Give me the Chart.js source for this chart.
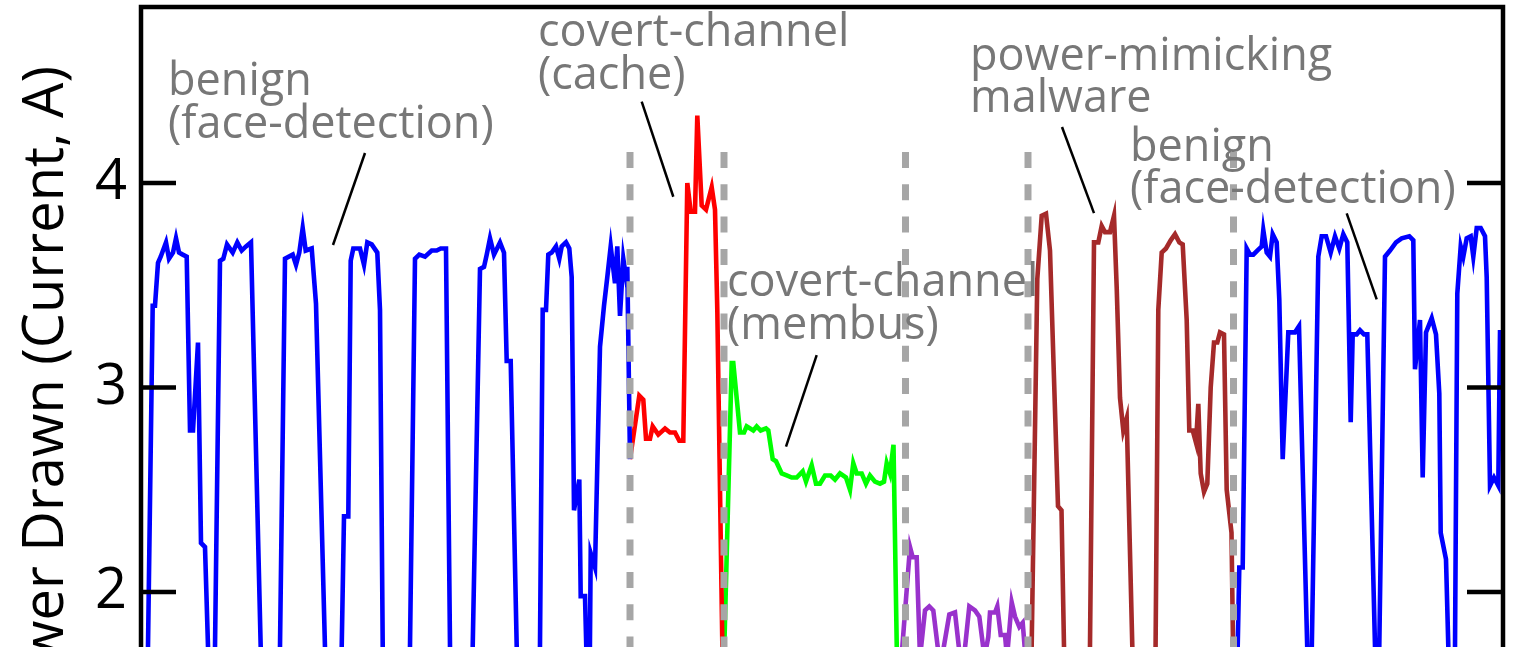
<!DOCTYPE html>
<html>
<head>
<meta charset="utf-8">
<style>
html,body{margin:0;padding:0;overflow:hidden;background:#fff;width:1514px;height:647px}
canvas{display:block}
</style>
<script src="https://cdn.jsdelivr.net/npm/chart.js@4.4.1/dist/chart.umd.min.js"></script>
</head>
<body>
<canvas id="c" width="1514" height="810"></canvas>
<script>
// ---- data: [time (s), current (A)] ----
const yTicks = [2, 3, 4];
const yMin = 1.03, yMax = 4.861;
const tMin = 0.1, tMax = 136.3;

const benignA = [[0.65,1.2],[1.27,3.40],[1.5,3.40],[1.8,3.61],[2.07,3.64],[2.6,3.71],[2.9,3.63],[3.3,3.66],[3.6,3.73],[3.9,3.66],[4.27,3.65],[4.67,3.64],[5.0,2.79],[5.3,2.79],[5.8,3.22],[6.1,2.24],[6.5,2.22],[7.13,1.2],[7.36,1.2],[8.0,3.62],[8.33,3.63],[8.7,3.70],[9.27,3.66],[9.73,3.71],[10.17,3.67],[10.6,3.69],[11.1,3.71],[12.33,1.2],[13.86,1.2],[14.5,3.63],[15.27,3.65],[15.6,3.60],[15.93,3.66],[16.27,3.78],[16.57,3.67],[17.17,3.68],[17.6,3.41],[18.78,1.2],[19.98,1.2],[20.4,2.37],[20.83,2.37],[21.07,3.62],[21.33,3.68],[22.0,3.68],[22.4,3.60],[22.73,3.71],[23.17,3.70],[23.73,3.66],[24.0,3.38],[24.36,1.2],[26.86,1.2],[27.5,3.63],[27.93,3.65],[28.5,3.64],[29.17,3.67],[29.67,3.67],[30.07,3.68],[30.6,3.68],[31.11,1.2],[33.06,1.2],[34.0,3.58],[34.4,3.59],[34.67,3.65],[35.0,3.73],[35.4,3.65],[36.0,3.71],[36.4,3.66],[36.67,3.13],[37.07,3.13],[37.9,1.2],[39.91,1.2],[40.27,3.38],[40.6,3.38],[40.83,3.65],[41.17,3.66],[41.6,3.69],[41.93,3.63],[42.17,3.69],[42.6,3.71],[42.93,3.68],[43.17,3.54],[43.4,2.40],[43.93,2.55],[44.07,1.98],[44.5,1.98],[44.9,1.2],[44.95,1.2],[45.07,2.19],[45.5,2.12],[46.0,3.20],[46.4,3.40],[46.73,3.54],[47.07,3.69],[47.5,3.51],[47.73,3.69],[48.0,3.35],[48.33,3.63],[48.6,3.54],[48.73,3.59],[49.0,2.65]];

const covertCache = [[49.0,2.65],[49.93,2.96],[50.33,2.94],[50.6,2.75],[51.0,2.75],[51.27,2.81],[51.83,2.77],[52.5,2.80],[53.0,2.78],[53.5,2.78],[53.93,2.74],[54.33,2.74],[54.73,4.00],[55.07,3.86],[55.5,3.86],[55.73,4.33],[56.17,3.89],[56.6,3.87],[57.17,3.98],[57.5,3.87],[57.73,3.38],[58.4,1.2]];

const covertMembus = [[58.15,1.2],[59.17,3.12],[59.33,3.12],[60.0,2.78],[60.4,2.78],[60.67,2.81],[61.33,2.79],[61.67,2.81],[62.07,2.79],[62.6,2.80],[62.83,2.79],[63.27,2.65],[63.6,2.64],[64.17,2.58],[64.67,2.57],[65.17,2.56],[65.67,2.56],[66.27,2.59],[66.6,2.54],[67.17,2.62],[67.6,2.53],[68.0,2.53],[68.5,2.57],[69.07,2.57],[69.5,2.55],[70.0,2.58],[70.6,2.56],[71.0,2.50],[71.33,2.63],[71.67,2.58],[72.17,2.58],[72.6,2.53],[73.0,2.57],[73.5,2.54],[74.0,2.53],[74.4,2.54],[74.67,2.63],[75.0,2.58],[75.35,2.72],[75.85,1.2]];

const idlePhase = [[76.15,1.68],[77.0,2.22],[77.27,2.17],[77.67,2.17],[78.0,1.68],[78.5,1.91],[78.93,1.93],[79.33,1.91],[79.9,1.68],[80.2,1.68],[80.93,1.89],[81.5,1.90],[82.0,1.68],[82.4,1.68],[82.93,1.93],[83.5,1.91],[83.93,1.88],[84.45,1.68],[84.83,1.78],[85.0,1.90],[85.5,1.90],[85.73,1.93],[86.07,1.79],[86.5,1.79],[86.7,1.68],[87.17,1.95],[87.5,1.88],[87.93,1.83],[88.27,1.85],[88.55,1.68]];

const mimicMalware = [[89.0,1.2],[89.73,3.53],[90.17,3.84],[90.6,3.85],[91.0,3.67],[91.8,2.42],[92.15,2.40],[92.6,1.2],[94.89,1.2],[95.4,3.71],[95.83,3.71],[96.17,3.79],[96.5,3.76],[97.0,3.76],[97.4,3.84],[97.67,3.49],[98.0,2.95],[98.33,2.79],[98.67,2.85],[99.5,1.2],[101.47,1.2],[101.83,3.38],[102.17,3.66],[102.6,3.68],[103.07,3.72],[103.5,3.75],[103.93,3.71],[104.27,3.70],[104.67,3.33],[104.93,2.79],[105.27,2.79],[105.6,2.73],[105.83,2.92],[106.07,2.58],[106.4,2.49],[106.73,2.53],[107.07,3.00],[107.4,3.22],[107.73,3.22],[108.0,3.27],[108.4,3.26],[108.67,2.50],[109.15,2.29],[109.45,1.2]];

const benignB = [[109.55,1.2],[109.93,2.12],[110.27,2.12],[110.67,3.68],[111.0,3.65],[111.33,3.65],[111.73,3.67],[112.17,3.69],[112.33,3.77],[112.67,3.66],[113.0,3.64],[113.27,3.75],[113.67,3.71],[113.93,3.43],[114.27,2.65],[114.83,3.27],[115.5,3.27],[115.9,3.30],[117.0,1.2],[117.83,3.64],[118.17,3.74],[118.6,3.74],[119.07,3.66],[119.5,3.74],[119.93,3.68],[120.33,3.75],[120.73,3.71],[121.07,2.83],[121.27,3.26],[121.67,3.26],[122.0,3.28],[122.4,3.26],[122.73,3.26],[123.77,1.2],[124.5,3.64],[125.0,3.67],[125.6,3.71],[126.17,3.73],[126.93,3.74],[127.33,3.72],[127.5,3.09],[128.0,3.33],[128.27,2.56],[128.6,3.27],[129.17,3.34],[129.6,3.26],[129.93,2.97],[130.07,2.29],[130.6,2.16],[131.12,1.2],[131.43,1.2],[131.73,3.46],[132.07,3.69],[132.33,3.64],[132.67,3.73],[133.07,3.74],[133.33,3.64],[133.67,3.78],[134.07,3.78],[134.5,3.74],[134.67,3.54],[135.0,2.52],[135.4,2.56],[135.83,2.52],[136.0,3.27],[136.2,3.27]];

// phase boundaries (s) and the top of the dashed markers (A)
const boundaryTimes = [49.0, 58.4, 76.55, 88.8, 109.35];
const boundaryTop = 4.152;

// annotations: text lines, text anchor [t, A], pointer from/to [t, A]
const annoLabels = [
  ['benign', '(face-detection)'],
  ['covert-channel', '(cache)'],
  ['covert-channel', '(membus)'],
  ['power-mimicking', 'malware'],
  ['benign', '(face-detection)']
];
const annoAnchors = [[2.8,4.430],[39.8,4.670],[58.7,3.447],[83.0,4.553],[99.0,4.108]];
const annoPointers = [
  [[22.5,4.147],[19.3,3.697]],
  [[50.17,4.398],[53.33,3.933]],
  [[67.67,3.159],[64.6,2.711]],
  [[92.2,4.274],[95.4,3.853]],
  [[120.67,3.852],[123.67,3.431]]
];

// ---- chart ----
const toXY = arr => arr.map(p => ({x: p[0], y: p[1]}));
const FONT = '"Open Sans", "DejaVu Sans", sans-serif';

const dividerSets = boundaryTimes.map(t => ({
  data: [{x: t, y: boundaryTop}, {x: t, y: yMin}],
  borderColor: '#a6a6a6', borderWidth: 7, borderDash: [16, 16.3], borderCapStyle: 'butt',
  pointRadius: 0, fill: false
}));
function series(arr, color) {
  return {data: toXY(arr), borderColor: color, borderWidth: 4.6, pointRadius: 0,
          tension: 0, fill: false, borderJoinStyle: 'miter'};
}

const framePlugin = {
  id: 'frame',
  afterDatasetsDraw(chart) {
    const {ctx, chartArea: a, scales: {x, y}} = chart;
    ctx.save();
    // annotations
    ctx.strokeStyle = '#000';
    ctx.lineWidth = 2.5;
    annoPointers.forEach(p => {
      ctx.beginPath();
      ctx.moveTo(x.getPixelForValue(p[0][0]), y.getPixelForValue(p[0][1]));
      ctx.lineTo(x.getPixelForValue(p[1][0]), y.getPixelForValue(p[1][1]));
      ctx.stroke();
    });
    ctx.fillStyle = '#777777';
    ctx.font = '45px ' + FONT;
    ctx.textAlign = 'left';
    ctx.textBaseline = 'alphabetic';
    annoLabels.forEach((lines, i) => {
      const px = x.getPixelForValue(annoAnchors[i][0]);
      const py = y.getPixelForValue(annoAnchors[i][1]);
      lines.forEach((s, j) => ctx.fillText(s, px, py + j * 42.5));
    });
    // frame
    ctx.strokeStyle = '#000';
    ctx.lineWidth = 4.5;
    ctx.lineCap = 'butt';
    ctx.lineJoin = 'miter';
    ctx.beginPath();
    ctx.moveTo(a.left, a.bottom + 50);
    ctx.lineTo(a.left, a.top);
    ctx.lineTo(a.right, a.top);
    ctx.lineTo(a.right, a.bottom + 50);
    ctx.stroke();
    // inward tick marks on both sides
    yTicks.forEach(v => {
      const py = y.getPixelForValue(v);
      ctx.beginPath();
      ctx.moveTo(a.left, py); ctx.lineTo(a.left + 35, py);
      ctx.moveTo(a.right - 36, py); ctx.lineTo(a.right, py);
      ctx.stroke();
    });
    ctx.restore();
  }
};

function draw() {
  new Chart(document.getElementById('c'), {
    type: 'line',
    data: {
      datasets: [
        ...dividerSets,
        series(benignA, '#0000ff'),
        series(covertCache, '#ff0000'),
        series(covertMembus, '#00ff00'),
        series(idlePhase, '#9932cc'),
        series(mimicMalware, '#a52a2a'),
        series(benignB, '#0000ff')
      ]
    },
    options: {
      responsive: false,
      animation: false,
      events: [],
      layout: {padding: {left: 0, right: 11, top: 7, bottom: 19.6}},
      plugins: {legend: {display: false}, tooltip: {enabled: false}},
      scales: {
        x: {type: 'linear', min: tMin, max: tMax, display: false},
        y: {
          type: 'linear', min: yMin, max: yMax,
          afterBuildTicks: s => { s.ticks = yTicks.map(v => ({value: v})); },
          afterFit: s => { s.width = 141; s.paddingTop = 0; s.paddingBottom = 0; },
          grid: {display: false, drawTicks: false},
          border: {display: false},
          ticks: {font: {family: FONT, size: 56}, color: '#000', padding: 14},
          title: {display: true, text: 'Power Drawn (Current, A)', color: '#000',
                  font: {family: FONT, size: 56}, padding: {top: 13, bottom: 0}}
        }
      }
    },
    plugins: [framePlugin]
  });
}
if (document.fonts && document.fonts.load) {
  Promise.all([document.fonts.load('45px "Open Sans"'), document.fonts.load('56px "Open Sans"')]).then(draw, draw);
} else { draw(); }
</script>
</body>
</html>
